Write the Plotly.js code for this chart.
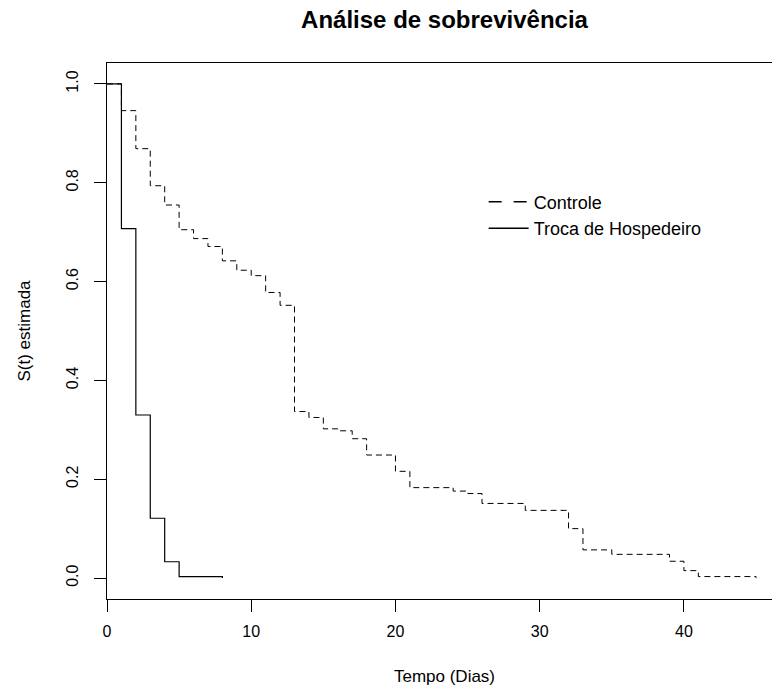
<!DOCTYPE html>
<html>
<head>
<meta charset="utf-8">
<script src="https://cdn.plot.ly/plotly-3.0.1.min.js"></script>
<style>
html, body { margin: 0; padding: 0; overflow: hidden; background: #fff; }
#chart { width: 792px; height: 688px; }
</style>
</head>
<body>
<div id="chart"></div>
<script>
// Controle (dashed) Kaplan-Meier estimate
const ctrlTime = [0, 1, 2, 3, 4, 5, 6, 7, 8, 9, 10, 11, 12, 13, 14, 15, 16, 17, 18, 20, 21, 24, 25, 26, 29, 32, 33, 35, 39, 40, 41, 45];
const ctrlSurv = [1.0, 0.946, 0.869, 0.794, 0.755, 0.705, 0.687, 0.671, 0.642, 0.623, 0.612, 0.578, 0.552, 0.337, 0.325, 0.302, 0.298, 0.282, 0.249, 0.216, 0.183, 0.176, 0.171, 0.151, 0.137, 0.100, 0.057, 0.048, 0.034, 0.015, 0.003, 0.0];

// Troca de Hospedeiro (solid)
const trocaTime = [0, 1, 2, 3, 4, 5, 8];
const trocaSurv = [1.0, 0.707, 0.330, 0.121, 0.033, 0.003, 0.0];

const seriesNames = ["Controle", "Troca de Hospedeiro"];
const xTicks = [0, 10, 20, 30, 40];
const yTicks = [0.0, 0.2, 0.4, 0.6, 0.8, 1.0];
const yTickText = ["0.0", "0.2", "0.4", "0.6", "0.8", "1.0"];

const FONT = "Liberation Sans, Arial, sans-serif";

const traces = [
  {
    x: ctrlTime, y: ctrlSurv, name: seriesNames[0],
    type: "scatter", mode: "lines", showlegend: false,
    line: { shape: "hv", color: "#000", width: 1, dash: "6px,4px" }
  },
  {
    x: trocaTime, y: trocaSurv, name: seriesNames[1],
    type: "scatter", mode: "lines", showlegend: false,
    line: { shape: "hv", color: "#000", width: 1.2 }
  },
  // legend-only entries (R-style legend keys)
  {
    x: [null], y: [null], name: seriesNames[0],
    type: "scatter", mode: "lines",
    line: { color: "#000", width: 1.5, dash: "13px,12px" }
  },
  {
    x: [null], y: [null], name: seriesNames[1],
    type: "scatter", mode: "lines",
    line: { color: "#000", width: 1.5 }
  }
];

const layout = {
  width: 792, height: 688,
  margin: { l: 107, r: 10, t: 63, b: 89 },
  paper_bgcolor: "#fff", plot_bgcolor: "#fff",
  font: { family: FONT, color: "#000", size: 16 },
  showlegend: true,
  title: {
    text: "<b>Análise de sobrevivência</b>",
    font: { family: FONT, size: 24, color: "#000" },
    xref: "paper", x: 0.5, xanchor: "center",
    yref: "container", y: 0.971, yanchor: "middle"
  },
  xaxis: {
    range: [0, 46.8],
    tickvals: xTicks,
    ticktext: xTicks.map(String),
    ticks: "outside", ticklen: 12, tickwidth: 1, tickcolor: "#000",
    ticklabelstandoff: 6,
    showline: true, linecolor: "#000", linewidth: 1, mirror: true,
    showgrid: false, zeroline: false,
    tickfont: { family: FONT, size: 16, color: "#000" },
    title: { text: "Tempo (Dias)", font: { family: FONT, size: 17, color: "#000" }, standoff: 30 }
  },
  yaxis: {
    range: [-0.0424, 1.0424],
    tickvals: yTicks,
    ticktext: yTickText,
    tickangle: -90,
    ticks: "outside", ticklen: 12, tickwidth: 1, tickcolor: "#000",
    ticklabelstandoff: 10,
    showline: true, linecolor: "#000", linewidth: 1, mirror: true,
    showgrid: false, zeroline: false,
    tickfont: { family: FONT, size: 16, color: "#000" },
    title: { text: "S(t) estimada", font: { family: FONT, size: 17, color: "#000" }, standoff: 28 }
  },
  legend: {
    x: 0.558, xanchor: "left", xref: "paper",
    y: 0.775, yanchor: "top", yref: "paper",
    bgcolor: "rgba(0,0,0,0)", borderwidth: 0,
    font: { family: FONT, size: 18, color: "#000" },
    tracegroupgap: 0, itemwidth: 40
  }
};

Plotly.newPlot("chart", traces, layout, { displayModeBar: false, staticPlot: true });
</script>
</body>
</html>
